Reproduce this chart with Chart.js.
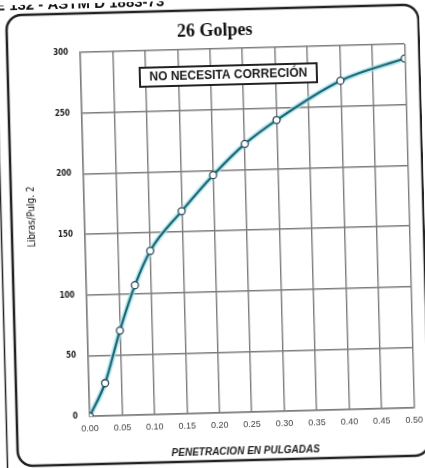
<!DOCTYPE html>
<html>
<head>
<meta charset="utf-8">
<script src="https://cdn.jsdelivr.net/npm/chart.js@4/dist/chart.umd.min.js"></script>
<style>
  html, body { margin: 0; padding: 0; background: #fff; overflow: hidden; }
  #wrap { position: absolute; left: 0; top: 0; width: 425px; height: 468px;
          transform: rotate(-1.5deg); transform-origin: 212.5px 234px; }
  canvas { display: block; }
</style>
</head>
<body>
<div id="wrap"><canvas id="c" width="425" height="468"></canvas></div>
<script>
// CBR load curve, 26 blows per layer
const penetration = [0, 0.025, 0.05, 0.075, 0.10, 0.15, 0.20, 0.25, 0.30, 0.40, 0.50];
const pressure    = [0, 27, 70, 107, 135, 167, 196, 221, 240, 271, 288];

const xTickValues = [0, 0.05, 0.10, 0.15, 0.20, 0.25, 0.30, 0.35, 0.40, 0.45, 0.50];
const yTickValues = [0, 50, 100, 150, 200, 250, 300];

const chartTitle = '26 Golpes';
const xAxisTitle = 'PENETRACION EN PULGADAS';
const yAxisTitle = 'Libras/Pulg. 2';
const noteText   = 'NO NECESITA CORRECIÓN';
const headerText = 'E 132 - ASTM D 1883-73';

const points = penetration.map((x, i) => ({ x, y: pressure[i] }));

const GRID = '#7c7c7c';
const NARROW = "'Liberation Sans Narrow', 'DejaVu Sans Condensed', Arial, sans-serif";

function roundRect(ctx, x, y, w, h, r) {
  ctx.beginPath();
  ctx.moveTo(x + r, y);
  ctx.lineTo(x + w - r, y);
  ctx.arcTo(x + w, y, x + w, y + r, r);
  ctx.lineTo(x + w, y + h - r);
  ctx.arcTo(x + w, y + h, x + w - r, y + h, r);
  ctx.lineTo(x + r, y + h);
  ctx.arcTo(x, y + h, x, y + h - r, r);
  ctx.lineTo(x, y + r);
  ctx.arcTo(x, y, x + r, y, r);
  ctx.closePath();
}

const decorations = {
  id: 'decorations',
  beforeDraw(chart) {
    const ctx = chart.ctx;
    ctx.save();
    ctx.fillStyle = '#fff';
    ctx.fillRect(0, 0, chart.width, chart.height);
    // outer table rule and rounded frame
    ctx.strokeStyle = '#222';
    ctx.lineWidth = 1.5;
    ctx.beginPath();
    ctx.moveTo(1.5, 0); ctx.lineTo(1.5, chart.height);
    ctx.stroke();
    ctx.lineWidth = 2.5;
    roundRect(ctx, 12, 10, 412, 451, 15);
    ctx.stroke();
    // header line
    ctx.fillStyle = '#111';
    ctx.font = "bold 15px 'Liberation Sans', Arial, sans-serif";
    ctx.textAlign = 'left';
    ctx.textBaseline = 'alphabetic';
    ctx.fillText(headerText, 1, 5);
    ctx.restore();
  },
  afterDatasetsDraw(chart) {
    const ctx = chart.ctx;
    ctx.save();
    // note box
    ctx.fillStyle = '#fff';
    ctx.fillRect(144, 66, 177, 19);
    ctx.strokeStyle = '#222';
    ctx.lineWidth = 2;
    ctx.strokeRect(144, 66, 177, 19);
    ctx.fillStyle = '#1a1a1a';
    ctx.font = "bold 12px 'Liberation Sans', Arial, sans-serif";
    ctx.textAlign = 'center';
    ctx.textBaseline = 'middle';
    ctx.fillText(noteText, 232.5, 76);
    // chart title
    ctx.fillStyle = '#111';
    ctx.font = "bold 18px 'Liberation Serif', 'Times New Roman', serif";
    ctx.fillText(chartTitle, 220, 31);
    // x axis title
    ctx.font = "italic bold 10px 'Liberation Sans', Arial, sans-serif";
    ctx.fillStyle = '#222';
    ctx.fillText(xAxisTitle, 240, 452);
    // y axis title
    ctx.translate(32, 212);
    ctx.rotate(-Math.PI / 2);
    ctx.fillStyle = '#111';
    ctx.font = "10px " + NARROW;
    ctx.fillText(yAxisTitle, 0, 0);
    ctx.restore();
  }
};

new Chart(document.getElementById('c'), {
  type: 'line',
  data: {
    datasets: [
      {
        data: points,
        order: 1,
        borderColor: '#1d6470',
        borderWidth: 2.2,
        pointRadius: 3.5,
        pointBackgroundColor: '#fff',
        pointBorderColor: '#2b4a55',
        pointBorderWidth: 1.3,
        cubicInterpolationMode: 'monotone',
        fill: false
      },
      {
        // soft cyan halo under the curve line
        data: points,
        order: 2,
        borderColor: 'rgba(160, 225, 236, 0.75)',
        borderWidth: 5.5,
        pointRadius: 0,
        cubicInterpolationMode: 'monotone',
        fill: false
      }
    ]
  },
  options: {
    responsive: false,
    animation: false,
    events: [],
    layout: { padding: { left: 0, top: 49, right: 10, bottom: 0 } },
    plugins: { legend: { display: false }, title: { display: false }, tooltip: { enabled: false } },
    scales: {
      x: {
        type: 'linear',
        min: 0,
        max: 0.5,
        afterBuildTicks(scale) { scale.ticks = xTickValues.map(v => ({ value: v })); },
        afterFit(scale) { scale.height = 55; },
        grid: { color: GRID, lineWidth: 1.4, drawTicks: false },
        border: { display: true, color: GRID, width: 1.4 },
        ticks: {
          padding: 7,
          maxRotation: 0,
          autoSkip: false,
          color: '#444',
          font: { family: "'Liberation Sans', Arial, sans-serif", size: 9 },
          callback: v => Number(v).toFixed(2)
        },
        title: { display: false }
      },
      y: {
        min: 0,
        max: 300,
        afterBuildTicks(scale) { scale.ticks = yTickValues.map(v => ({ value: v })); },
        afterFit(scale) { scale.width = 85; },
        grid: { color: GRID, lineWidth: 1.4, drawTicks: false },
        border: { display: true, color: GRID, width: 1.4 },
        ticks: {
          padding: 12,
          color: '#222',
          font: { family: NARROW, size: 8, weight: 'bold' },
          callback: v => String(v)
        },
        title: { display: false }
      }
    }
  },
  plugins: [decorations]
});
</script>
</body>
</html>
